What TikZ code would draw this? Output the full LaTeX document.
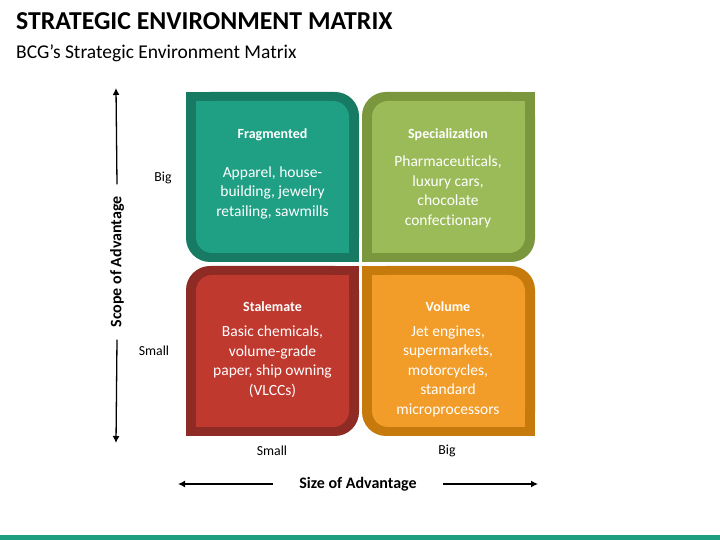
\documentclass[tikz,border=0pt]{standalone}
\usepackage{fontspec}
\setmainfont{Carlito}[Ligatures=NoCommon]
\usetikzlibrary{positioning}
\usetikzlibrary{arrows.meta}
\definecolor{tealdk}{RGB}{23,123,99}
\definecolor{teallt}{RGB}{31,160,133}
\definecolor{olivedk}{RGB}{122,151,61}
\definecolor{olivelt}{RGB}{155,187,89}
\definecolor{reddk}{RGB}{142,43,37}
\definecolor{redlt}{RGB}{192,57,47}
\definecolor{orangedk}{RGB}{199,122,12}
\definecolor{orangelt}{RGB}{242,157,42}
\definecolor{barteal}{RGB}{30,158,129}
\tikzset{qtitle/.style = {text=white, font=\fontsize{14}{16}\selectfont\bfseries, inner sep=0}}
\tikzset{qbody/.style = {text=white, align=center, font=\fontsize{15.5}{19.5}\selectfont, inner sep=0}}
\tikzset{axlabel/.style = {font=\fontsize{13.8}{16}\selectfont, inner sep=0}}
\tikzset{axname/.style = {font=\fontsize{16}{18}\selectfont\bfseries}}
\tikzset{axarrow/.style = {line width=1.3pt, -{Latex[length=7pt,width=7pt]}}}

\begin{document}
\begin{tikzpicture}[x=1pt, y=1pt]
      \useasboundingbox (0,0) rectangle (720,540);
      \fill[barteal] (0,0) rectangle (720,5);
      \node[anchor=base west, inner sep=0, font=\fontsize{25.8}{30}\selectfont\bfseries] (title) at (16,510.5) {STRATEGIC ENVIRONMENT MATRIX};
      \node[anchor=base west, inner sep=0, font=\fontsize{19.5}{22}\selectfont] (subtitle) at (16,481.7) {BCG’s Strategic Environment Matrix};
      \foreach \x/\y/\outc/\innc/\d in {186/278/tealdk/teallt/1, 362/278/olivedk/olivelt/2,
        186/104/reddk/redlt/2, 362/104/orangedk/orangelt/1} {
        \fill[\outc, rounded corners=24pt] (\x,\y) rectangle ++(173,170);
        \ifnum\d=1
          \fill[\outc] (\x,\y+146) rectangle ++(24,24);
          \fill[\outc] (\x+149,\y) rectangle ++(24,24);
        \else
          \fill[\outc] (\x+149,\y+146) rectangle ++(24,24);
          \fill[\outc] (\x,\y) rectangle ++(24,24);
        \fi
        \fill[\innc, rounded corners=16pt] (\x+10,\y+9) rectangle ++(153,152);
        \ifnum\d=1
          \fill[\innc] (\x+10,\y+145) rectangle ++(16,16);
          \fill[\innc] (\x+147,\y+9) rectangle ++(16,16);
        \else
          \fill[\innc] (\x+147,\y+145) rectangle ++(16,16);
          \fill[\innc] (\x+10,\y+9) rectangle ++(16,16);
        \fi
      }
      \node[qtitle] (fragtitle) at (272.5,405) {Fragmented};
      \node[qbody] (fragtext) at (272.5,347.3) {Apparel, house-\\building, jewelry\\retailing, sawmills};
      \node[qtitle] (spectitle) at (448,405) {Specialization};
      \node[qbody] (spectext) at (448,348) {Pharmaceuticals,\\luxury cars,\\chocolate\\confectionary};
      \node[qtitle] (staltitle) at (272.5,233) {Stalemate};
      \node[qbody] (staltext) at (272.5,178.3) {Basic chemicals,\\volume-grade\\paper, ship owning\\(VLCCs)};
      \node[qtitle] (voltitle) at (448,233) {Volume};
      \node[qbody] (voltext) at (448,169) {Jet engines,\\supermarkets,\\motorcycles,\\standard\\microprocessors};
      \node[axlabel] (bigy) at (163,362) {Big};
      \node[axlabel] (smally) at (154,189) {Small};
      \node[axlabel] (smallx) at (272,89) {Small};
      \node[axlabel] (bigx) at (447,89) {Big};
      \node[axname, rotate=90, inner sep=12pt] (scope) at (117,278) {Scope of Advantage};
      \coordinate (scopetop) at (116,452);
      \coordinate (scopebot) at (116,97);
      \draw[axarrow] (scope.east) -- (scopetop);
      \draw[axarrow] (scope.west) -- (scopebot);
      \node[axname, inner xsep=26pt] (size) at (358,56) {Size of Advantage};
      \coordinate (sizeleft) at (178,56);
      \coordinate (sizeright) at (538,56);
      \draw[axarrow] (size.west) -- (sizeleft);
      \draw[axarrow] (size.east) -- (sizeright);
    \end{tikzpicture}
\end{document}
